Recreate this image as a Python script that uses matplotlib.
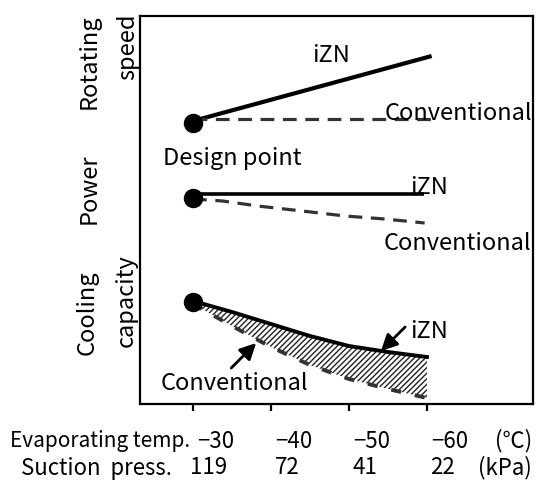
import matplotlib
matplotlib.use("Agg")
import matplotlib.pyplot as plt
from matplotlib.transforms import blended_transform_factory, offset_copy

plt.rcParams['font.family'] = ['Noto Sans CJK JP', 'DejaVu Sans']
plt.rcParams['hatch.linewidth'] = 1.0

W, H = 536, 483
# ---- data (schematic, relative units) ----
design_temp = -30
evap_temps = [-30, -40, -50, -60]
evap_labels = ['−30', '−40', '−50', '−60']
suction_press = ['119', '72', '41', '22']

speed_temps = [-30, -60.6]
speed_izn = [283, 348]
speed_conv = [285, 285]
speed_design = 281

power_temps_izn = [-30, -59.6]
power_izn = [210, 210]
power_temps_conv = [-30, -33.8, -38.3, -44, -49.5, -54.6, -59.7]
power_conv = [205, 203, 198, 193, 188, 185, 181]
power_design = 206

cool_temps = [-30, -35, -40, -45, -50, -55, -60]
cool_izn = [103, 92, 80, 68, 58, 52, 47]
cool_conv = [100, 78, 57, 39, 25, 15, 6]
cool_design = 102

fig = plt.figure(figsize=(W / 100, H / 100), dpi=100)
ax = fig.add_axes([140 / W, 1 - 404 / H, 393 / W, 388 / H])
ax.set_xlim(-23.2, -73.6)
ax.set_ylim(0, 388)

dash_col = '#333333'
# rotating speed
ax.plot(speed_temps, speed_izn, color='black', lw=3.0, solid_capstyle='butt')
ax.plot(speed_temps, speed_conv, color=dash_col, lw=2.3, ls=(0, (4.3, 2.7)))
# power
ax.plot(power_temps_izn, power_izn, color='black', lw=2.6, solid_capstyle='butt')
ax.plot(power_temps_conv, power_conv, color=dash_col, lw=2.3, ls=(0, (4.3, 2.7)))
# cooling capacity
ax.fill_between(cool_temps, cool_conv, cool_izn, facecolor='none', edgecolor='#222222',
                hatch='//////', linewidth=0)
ax.plot(cool_temps, cool_izn, color='black', lw=2.8)
ax.plot(cool_temps, cool_conv, color=dash_col, lw=2.8, ls=(0, (2.6, 3.6)))
# design points
ax.plot([design_temp] * 3, [speed_design, power_design, cool_design], 'o',
        color='black', ms=13)

fs = 17
ax.text(-47.7, 349, 'iZN', fontsize=fs, ha='center', va='center')
ax.text(-54.6, 291, 'Conventional', fontsize=fs, ha='left', va='center')
ax.text(-26.2, 246, 'Design point', fontsize=fs, ha='left', va='center')
ax.text(-57.8, 216, 'iZN', fontsize=fs, ha='left', va='center')
ax.text(-54.4, 160, 'Conventional', fontsize=fs, ha='left', va='center')
ax.text(-57.8, 72, 'iZN', fontsize=fs, ha='left', va='center')
ax.text(-25.9, 20, 'Conventional', fontsize=fs, ha='left', va='center')
arr = dict(arrowstyle='-|>,head_length=0.7,head_width=0.35', color='black', lw=2,
           shrinkA=0, shrinkB=0, mutation_scale=14)
ax.annotate('', xy=(-54.1, 53), xytext=(-57.2, 77), arrowprops=arr)
ax.annotate('', xy=(-38.1, 61), xytext=(-34.9, 36), arrowprops=arr)

for s in ax.spines.values():
    s.set_linewidth(1.6)
ax.set_xticks(evap_temps)
ax.set_xticklabels([])
ax.set_yticks([])
ax.tick_params(axis='x', direction='out', length=5, width=1.6)

# bottom labels
bfs = 16
tr = blended_transform_factory(ax.transData, fig.transFigure)
tr1 = offset_copy(tr, fig=fig, x=4, y=0, units='dots')
tr2 = offset_copy(tr, fig=fig, x=16, y=0, units='dots')
y1 = 1 - 441 / H
y2 = 1 - 468 / H
for t, lab in zip(evap_temps, evap_labels):
    ax.text(t, y1, lab, transform=tr1, fontsize=bfs, ha='left', va='center')
for t, lab in zip(evap_temps, suction_press):
    ax.text(t, y2, lab, transform=tr2, fontsize=bfs, ha='center', va='center')
fig.text(10 / W, y1, 'Evaporating temp.', fontsize=15, ha='left', va='center')
fig.text(21 / W, y2, 'Suction  press.', fontsize=bfs, ha='left', va='center')
fig.text(532 / W, y1, '(℃)', fontsize=bfs, ha='right', va='center')
fig.text(532 / W, y2, '(kPa)', fontsize=bfs, ha='right', va='center')

# side labels
fig.text(89 / W, 1 - 14 / H, 'Rotating', fontsize=fs, rotation=90, ha='center', va='top')
fig.text(128 / W, 1 - 14 / H, 'speed', fontsize=fs, rotation=90, ha='center', va='top')
fig.text(89 / W, 1 - 189 / H, 'Power', fontsize=fs, rotation=90, ha='center', va='center')
fig.text(87 / W, 1 - 313 / H, 'Cooling', fontsize=fs, rotation=90, ha='center', va='center')
fig.text(126 / W, 1 - 301 / H, 'capacity', fontsize=fs, rotation=90, ha='center', va='center')

fig.savefig('out.png', dpi=100)
